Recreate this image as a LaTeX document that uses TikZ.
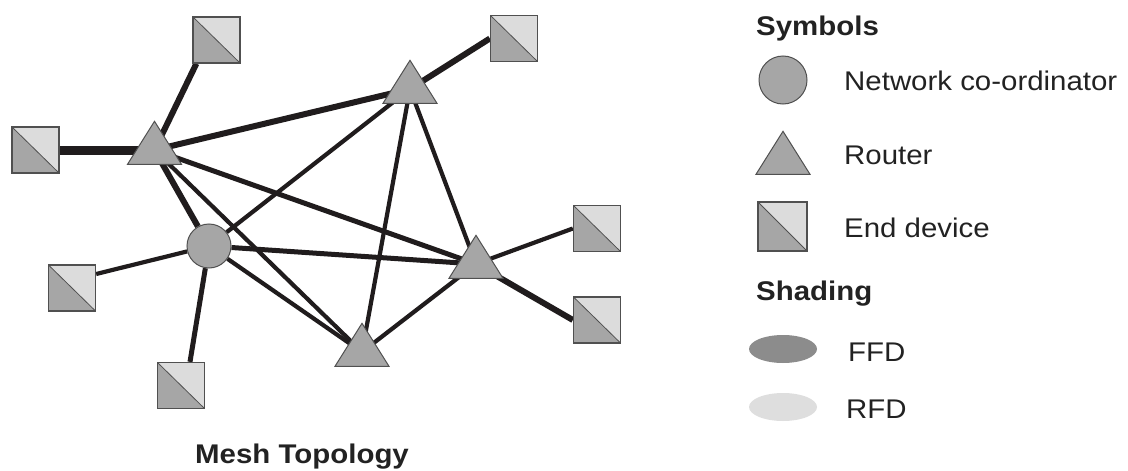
\documentclass[tikz,border=0pt]{standalone}
\usepackage{fontspec}
\setmainfont{Liberation Sans}
\newfontfamily\legendfont{Liberation Sans}[FakeStretch=1.09]
\usetikzlibrary{backgrounds,shapes.geometric}
\definecolor{ln}{HTML}{201C1D}
\definecolor{mid}{HTML}{A6A6A6}
\definecolor{lite}{HTML}{DCDCDC}
\definecolor{bd}{HTML}{505050}
\definecolor{ffdc}{HTML}{8C8C8C}
\definecolor{rfdc}{HTML}{DEDEDE}
\definecolor{txt}{HTML}{222222}
\tikzset{
  link/.style={draw=ln, line width=4.2pt},
  linkm/.style={draw=ln, line width=5pt},
  linkt/.style={draw=ln, line width=6pt},
  linkh/.style={draw=ln, line width=9pt},
  enddev/.style={rectangle, minimum width=47pt, minimum height=46pt, inner sep=0pt,
    draw=bd, line width=1.3pt, fill=lite,
    path picture={
      \fill[mid] (path picture bounding box.north west) -- (path picture bounding box.south east)
        -- (path picture bounding box.south west) -- cycle;
      \draw[bd, line width=0.8pt] (path picture bounding box.north west) -- (path picture bounding box.south east);}},
  coordnode/.style={circle, fill=mid, draw=bd, line width=1pt, minimum size=44pt, inner sep=0pt},
  router/.pic={\fill[mid, draw=bd, line width=1pt] (0,-28.7) -- (-27,14.3) -- (27,14.3) -- cycle;},
  legtext/.style={anchor=base west, inner sep=0pt, text=txt, font=\legendfont\fontsize{27}{30}\selectfont},
  legbold/.style={legtext, font=\legendfont\bfseries\fontsize{27}{30}\selectfont},
}
\begin{document}
\begin{tikzpicture}[x=1pt, y=-1pt]
\useasboundingbox (0,0) rectangle (1128,471);
% routers (centres)
\coordinate (r1) at (154.5,150);
\coordinate (r2) at (410,89);
\coordinate (r3) at (476,264);
\coordinate (r4) at (362,352);
% coordinator
\node[coordnode] (c) at (209,246) {};
% end devices
\node[enddev] (e1) at (216.5,40) {};
\node[enddev] (e2) at (35.5,150) {};
\node[enddev] (e3) at (514,38.5) {};
\node[enddev] (e4) at (597,228.5) {};
\node[enddev] (e5) at (597,320) {};
\node[enddev] (e6) at (72,288) {};
\node[enddev] (e7) at (181,385.5) {};
\begin{scope}[on background layer]
  \draw[linkh] (e2.east) -- (r1);
  \draw[linkt] ([xshift=4pt]e1.south west) -- (r1);
  \draw[linkt] (r1) -- (r2);
  \draw[linkm] (r1) -- (r3);
  \draw[link] (r1) -- (r4);
  \draw[linkt] (r1) -- (c);
  \draw[linkt] (r2) -- (e3.west);
  \draw[link] (c) -- (r2);
  \draw[link] (r2) -- (r4);
  \draw[link] (r2) -- (r3);
  \draw[linkm] (c) -- (r3);
  \draw[link] (c) -- (r4);
  \draw[link] (c) -- ([yshift=14pt]e6.east);
  \draw[linkm] (c) -- ([xshift=9pt]e7.north);
  \draw[link] (r3) -- (e4.west);
  \draw[linkt] (r3) -- (e5.west);
  \draw[link] (r4) -- (r3);
\end{scope}
\pic at (r1) {router};
\pic at (r2) {router};
\pic at (r3) {router};
\pic at (r4) {router};
% title
\node[legbold, anchor=base west] (title) at (195,463) {Mesh Topology};
% legend
\node[legbold] (symbols) at (756,35) {Symbols};
\node[coordnode, minimum size=48pt] (lc) at (783,80) {};
\node[legtext] (lct) at (844,90.5) {Network co-ordinator};
\coordinate (lr) at (783,160);
\pic at (lr) {router};
\node[legtext] (lrt) at (844,164) {Router};
\node[enddev, minimum width=49pt, minimum height=49pt] (le) at (782.5,226.5) {};
\node[legtext] (let) at (844,237) {End device};
\node[legbold] (shading) at (756,300) {Shading};
\node[ellipse, fill=ffdc, minimum width=68pt, minimum height=28pt, inner sep=0pt] (ffd) at (783,349) {};
\node[legtext] (ffdt) at (848,361) {FFD};
\node[ellipse, fill=rfdc, minimum width=68pt, minimum height=28pt, inner sep=0pt] (rfd) at (783,407) {};
\node[legtext] (rfdt) at (846,418) {RFD};
\end{tikzpicture}
\end{document}
